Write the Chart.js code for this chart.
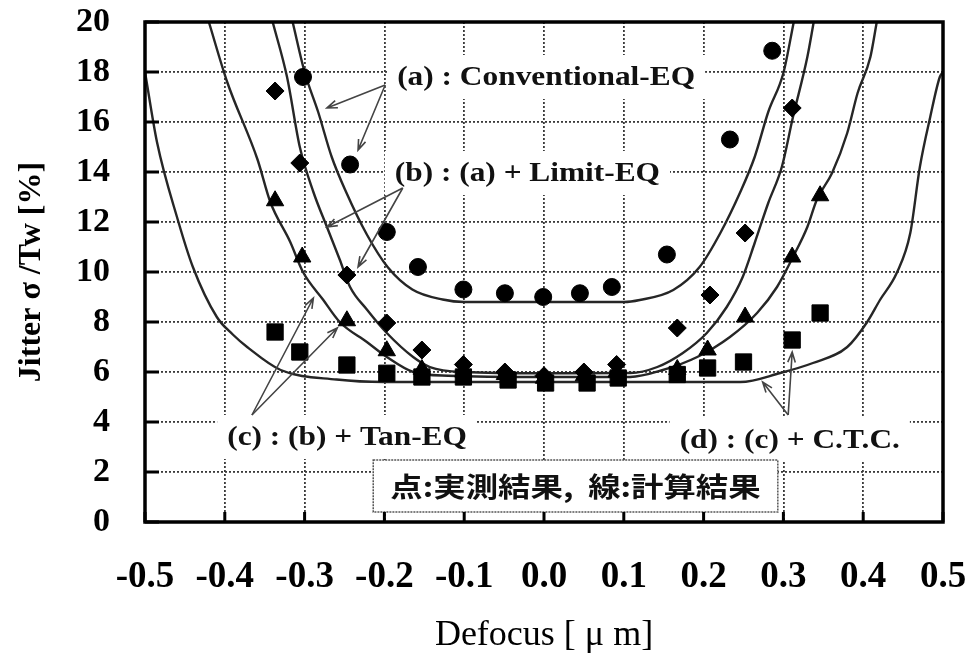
<!DOCTYPE html>
<html>
<head>
<meta charset="utf-8">
<script src="https://cdn.jsdelivr.net/npm/chart.js@4.4.1/dist/chart.umd.min.js"></script>
<style>
  html, body { margin: 0; padding: 0; background: #fff; }
</style>
</head>
<body>
<canvas id="myChart" width="970" height="654"></canvas>
<script>
// measured points (dots)
var circX = [-0.302, -0.243, -0.197, -0.158, -0.101, -0.049, -0.001, 0.045, 0.085, 0.154, 0.233, 0.286];
var circY = [17.8, 14.3, 11.6, 10.2, 9.3, 9.15, 9.0, 9.15, 9.4, 10.7, 15.3, 18.85];

var diamX = [-0.337, -0.306, -0.247, -0.197, -0.153, -0.101, -0.049, 0.0, 0.05, 0.091, 0.167, 0.208, 0.252, 0.311];
var diamY = [17.24, 14.36, 9.88, 7.96, 6.88, 6.3, 6.0, 5.85, 6.0, 6.3, 7.76, 9.08, 11.56, 16.56];

var triX = [-0.337, -0.303, -0.247, -0.197, -0.153, -0.101, -0.049, 0.0, 0.05, 0.091, 0.167, 0.205, 0.252, 0.311, 0.346];
var triY = [12.85, 10.6, 8.05, 6.85, 6.1, 6.0, 5.9, 5.75, 5.85, 6.0, 6.1, 6.88, 8.2, 10.6, 13.05];

var sqX = [-0.337, -0.306, -0.247, -0.197, -0.153, -0.101, -0.045, 0.002, 0.054, 0.093, 0.167, 0.205, 0.25, 0.311, 0.346];
var sqY = [7.6, 6.8, 6.28, 5.95, 5.8, 5.8, 5.68, 5.56, 5.56, 5.76, 5.9, 6.16, 6.4, 7.28, 8.36];

// calculated curves (lines)
var curveAX = [-0.315, -0.300, -0.283, -0.266, -0.248, -0.222, -0.196, -0.165, -0.127, -0.10, 0.0, 0.10, 0.12, 0.162, 0.195, 0.221, 0.246, 0.264, 0.281, 0.300, 0.313];
var curveAY = [20, 18.0, 16.4, 14.6, 13.2, 11.5, 10.2, 9.3, 8.9, 8.8, 8.8, 8.8, 8.88, 9.28, 10.2, 11.56, 13.2, 14.6, 16.4, 17.96, 20];

var curveBX = [-0.34, -0.322, -0.306, -0.289, -0.272, -0.256, -0.243, -0.222, -0.197, -0.164, -0.143, -0.10, 0.0, 0.108, 0.142, 0.174, 0.204, 0.229, 0.249, 0.264, 0.281, 0.298, 0.312, 0.33, 0.338];
var curveBY = [20, 17.8, 15.0, 13.2, 11.8, 10.5, 9.4, 8.5, 7.56, 6.6, 6.2, 6.0, 5.95, 5.96, 6.2, 6.76, 7.56, 8.6, 9.8, 11.16, 12.76, 14.2, 16.2, 18.6, 20];

var curveCX = [-0.42, -0.397, -0.359, -0.343, -0.318, -0.302, -0.277, -0.256, -0.222, -0.197, -0.164, -0.12, 0.0, 0.108, 0.149, 0.192, 0.233, 0.267, 0.292, 0.312, 0.33, 0.342, 0.361, 0.38, 0.393, 0.409, 0.417];
var curveCY = [20, 17.6, 14.5, 12.8, 11.2, 10.0, 8.9, 8.0, 7.2, 6.6, 6.0, 5.85, 5.8, 5.8, 6.08, 6.6, 7.4, 8.36, 9.4, 10.6, 11.8, 12.9, 13.96, 15.56, 17.16, 18.6, 20];

var curveDX = [-0.5, -0.485, -0.459, -0.44, -0.41, -0.39, -0.372, -0.33, -0.26, -0.2, 0.0, 0.246, 0.296, 0.337, 0.38, 0.405, 0.421, 0.442, 0.459, 0.471, 0.484, 0.496, 0.5];
var curveDY = [18, 15.2, 12.1, 10.2, 8.2, 7.5, 7.0, 6.08, 5.7, 5.6, 5.6, 5.6, 5.96, 6.36, 7.0, 8.0, 8.88, 9.96, 11.56, 14.2, 16.2, 17.8, 18];

var xTickVals = [-0.5, -0.4, -0.3, -0.2, -0.1, 0.0, 0.1, 0.2, 0.3, 0.4, 0.5];
var xTickLabels = ['-0.5', '-0.4', '-0.3', '-0.2', '-0.1', '0.0', '0.1', '0.2', '0.3', '0.4', '0.5'];
var yTickVals = [0, 2, 4, 6, 8, 10, 12, 14, 16, 18, 20];

// annotation texts: [text, x, y] (left edge, vertical centre, data units)
var notes = [
  ['(a) : Conventional-EQ', -0.184, 17.8],
  ['(b) : (a) + Limit-EQ', -0.187, 13.96],
  ['(c) : (b) + Tan-EQ', -0.397, 3.4],
  ['(d) : (c) + C.T.C.', 0.170, 3.28]
];
// arrows: [fromX, fromY, toX, toY]
var arrows = [
  [-0.199, 17.48, -0.272, 16.56], [-0.199, 17.48, -0.233, 14.88],
  [-0.177, 13.36, -0.272, 11.8], [-0.177, 13.36, -0.233, 10.2],
  [-0.366, 4.28, -0.289, 8.96], [-0.366, 4.28, -0.259, 7.76],
  [0.306, 4.28, 0.311, 6.8], [0.306, 4.28, 0.274, 5.6]
];
var boxText = '点:実測結果,  線:計算結果';

function toPts(xs, ys) {
  var out = [];
  for (var i = 0; i < xs.length; i++) out.push({ x: xs[i], y: ys[i] });
  return out;
}

function pointSet(label, xs, ys, style, radius) {
  return {
    label: label, data: toPts(xs, ys), order: 0,
    pointStyle: style, pointRadius: radius, pointHoverRadius: radius,
    backgroundColor: '#000', borderColor: '#000', borderWidth: 1, showLine: false
  };
}

function curveSet(label, xs, ys) {
  return {
    label: label, data: toPts(xs, ys), order: 1, showLine: true,
    pointRadius: 0, borderColor: '#262626', borderWidth: 2.4,
    cubicInterpolationMode: 'monotone', fill: false
  };
}

var decor = {
  id: 'decor',
  beforeDatasetsDraw: function (chart) {
    var ctx = chart.ctx, sx = chart.scales.x, sy = chart.scales.y;
    ctx.save();
    ctx.font = 'bold 28px "Liberation Serif"';
    ctx.textBaseline = 'middle';
    notes.forEach(function (n) {
      var x = sx.getPixelForValue(n[1]), y = sy.getPixelForValue(n[2]);
      var w = ctx.measureText(n[0]).width * 1.12;
      ctx.fillStyle = '#fff';
      ctx.fillRect(x - 10, y - 22, w + 20, 44);
      ctx.save();
      ctx.translate(x, y);
      ctx.scale(1.12, 1);
      ctx.fillStyle = '#111';
      ctx.fillText(n[0], 0, 1);
      ctx.restore();
    });
    // note box
    var bx1 = sx.getPixelForValue(-0.214), bx2 = sx.getPixelForValue(0.293);
    var by1 = sy.getPixelForValue(2.48), by2 = sy.getPixelForValue(0.4);
    ctx.fillStyle = '#fff';
    ctx.fillRect(bx1, by1, bx2 - bx1, by2 - by1);
    ctx.setLineDash([2, 1]);
    ctx.strokeStyle = '#555';
    ctx.lineWidth = 1.5;
    ctx.strokeRect(bx1, by1, bx2 - bx1, by2 - by1);
    ctx.setLineDash([]);
    ctx.font = '600 27px "Noto Sans CJK JP"';
    var tw = ctx.measureText(boxText).width * 1.2;
    ctx.save();
    ctx.translate((bx1 + bx2) / 2 - tw / 2, (by1 + by2) / 2 + 1);
    ctx.scale(1.2, 1);
    ctx.fillStyle = '#111';
    ctx.fillText(boxText, 0, 0);
    ctx.restore();
    ctx.restore();
  },
  afterDatasetsDraw: function (chart) {
    var ctx = chart.ctx, sx = chart.scales.x, sy = chart.scales.y, a = chart.chartArea;
    ctx.save();
    // arrows
    ctx.strokeStyle = '#444';
    ctx.lineWidth = 1.6;
    arrows.forEach(function (r) {
      var x1 = sx.getPixelForValue(r[0]), y1 = sy.getPixelForValue(r[1]);
      var x2 = sx.getPixelForValue(r[2]), y2 = sy.getPixelForValue(r[3]);
      var ang = Math.atan2(y2 - y1, x2 - x1);
      ctx.beginPath();
      ctx.moveTo(x1, y1);
      ctx.lineTo(x2, y2);
      ctx.moveTo(x2 - 11 * Math.cos(ang - 0.35), y2 - 11 * Math.sin(ang - 0.35));
      ctx.lineTo(x2, y2);
      ctx.lineTo(x2 - 11 * Math.cos(ang + 0.35), y2 - 11 * Math.sin(ang + 0.35));
      ctx.stroke();
    });
    // inner tick marks
    ctx.strokeStyle = '#000';
    ctx.lineWidth = 3;
    ctx.beginPath();
    yTickVals.forEach(function (v) {
      var y = sy.getPixelForValue(v);
      ctx.moveTo(a.left, y);
      ctx.lineTo(a.left + 14, y);
    });
    xTickVals.forEach(function (v) {
      var x = sx.getPixelForValue(v);
      ctx.moveTo(x, a.bottom);
      ctx.lineTo(x, a.bottom - 10);
    });
    ctx.stroke();
    // frame
    ctx.lineWidth = 3.5;
    ctx.strokeRect(a.left, a.top, a.right - a.left, a.bottom - a.top);
    ctx.restore();
  }
};

var ctx = document.getElementById('myChart');
new Chart(ctx, {
  type: 'scatter',
  data: {
    datasets: [
      pointSet('(a) measured', circX, circY, 'circle', 8.5),
      pointSet('(b) measured', diamX, diamY, 'rectRot', 9),
      pointSet('(c) measured', triX, triY, 'triangle', 10),
      pointSet('(d) measured', sqX, sqY, 'rect', 11.5),
      curveSet('(a) calc', curveAX, curveAY),
      curveSet('(b) calc', curveBX, curveBY),
      curveSet('(c) calc', curveCX, curveCY),
      curveSet('(d) calc', curveDX, curveDY)
    ]
  },
  options: {
    responsive: false,
    animation: false,
    layout: { padding: { top: 22, right: 27, bottom: 0, left: 0 } },
    plugins: { legend: { display: false }, tooltip: { enabled: false } },
    scales: {
      x: {
        type: 'linear', min: -0.5, max: 0.5,
        afterBuildTicks: function (s) { s.ticks = xTickVals.map(function (v) { return { value: v }; }); },
        afterFit: function (s) { s.height = 132; s.paddingLeft = 0; s.paddingRight = 0; },
        ticks: {
          autoSkip: false, maxRotation: 0, padding: 37, color: '#000',
          font: { family: '"Liberation Serif"', size: 37, weight: 'bold', lineHeight: 1 },
          callback: function (v, i) { return xTickLabels[i]; }
        },
        grid: { color: '#3a3a3a', lineWidth: 1.8, drawTicks: false },
        border: { display: false, dash: [2, 2] },
        title: {
          display: true, text: 'Defocus [ μ m]', color: '#000',
          font: { family: '"Liberation Serif"', size: 36, lineHeight: 1 },
          padding: { top: 0, bottom: 0 }
        }
      },
      y: {
        type: 'linear', min: 0, max: 20,
        afterBuildTicks: function (s) { s.ticks = yTickVals.map(function (v) { return { value: v }; }); },
        afterFit: function (s) { s.width = 145; s.paddingTop = 0; s.paddingBottom = 0; },
        ticks: {
          autoSkip: false, padding: 35, color: '#000',
          font: { family: '"Liberation Serif"', size: 34, weight: 'bold', lineHeight: 1 }
        },
        grid: { color: '#3a3a3a', lineWidth: 1.8, drawTicks: false },
        border: { display: false, dash: [2, 2] },
        title: {
          display: true, text: 'Jitter σ /Tw [%]', color: '#000',
          font: { family: '"Liberation Serif"', size: 32, weight: 'bold', lineHeight: 1 },
          padding: { top: 16, bottom: 0 }
        }
      }
    }
  },
  plugins: [decor]
});
</script>
</body>
</html>
